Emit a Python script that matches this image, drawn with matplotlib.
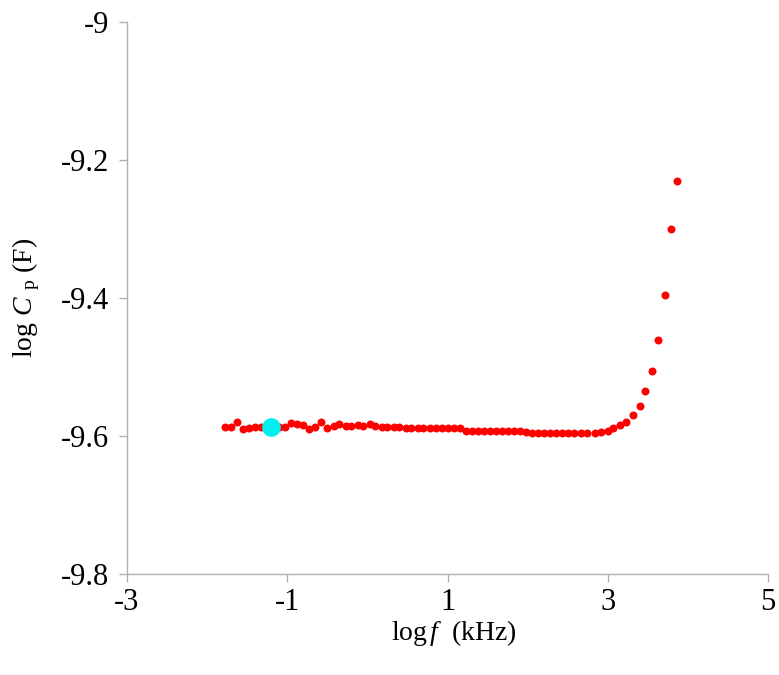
import matplotlib
matplotlib.use('Agg')
import matplotlib.pyplot as plt

plt.rcParams['font.family'] = ['Liberation Serif', 'DejaVu Serif']
plt.rcParams['mathtext.fontset'] = 'custom'
plt.rcParams['mathtext.rm'] = 'Liberation Serif'
plt.rcParams['mathtext.it'] = 'Liberation Serif:italic'
plt.rcParams['axes.unicode_minus'] = False

# log f (kHz) and log Cp (F)
log_f = [-1.78, -1.70, -1.63, -1.55, -1.48, -1.40, -1.33, -1.25, -1.18, -1.10,
         -1.03, -0.95, -0.88, -0.80, -0.73, -0.65, -0.58, -0.50, -0.42, -0.35,
         -0.27, -0.20, -0.12, -0.05, 0.03, 0.10, 0.18, 0.25, 0.33, 0.40,
         0.48, 0.55, 0.63, 0.70, 0.78, 0.85, 0.93, 1.00, 1.08, 1.15,
         1.23, 1.30, 1.38, 1.45, 1.53, 1.60, 1.68, 1.75, 1.83, 1.90,
         1.98, 2.05, 2.13, 2.20, 2.28, 2.35, 2.43, 2.50, 2.58, 2.67,
         2.74, 2.84, 2.92, 3.00, 3.07, 3.15, 3.23, 3.32, 3.40, 3.47,
         3.55, 3.62, 3.71, 3.79, 3.86]
log_cp = [-9.5865, -9.5865, -9.580, -9.590, -9.588, -9.587, -9.587, -9.587, -9.587, -9.587,
          -9.5865, -9.581, -9.583, -9.584, -9.590, -9.587, -9.580, -9.588, -9.586, -9.583,
          -9.585, -9.585, -9.584, -9.586, -9.583, -9.586, -9.587, -9.587, -9.587, -9.587,
          -9.588, -9.589, -9.589, -9.589, -9.589, -9.589, -9.589, -9.589, -9.589, -9.589,
          -9.592, -9.592, -9.592, -9.592, -9.592, -9.592, -9.592, -9.592, -9.592, -9.592,
          -9.5935, -9.595, -9.595, -9.595, -9.595, -9.595, -9.595, -9.595, -9.595, -9.595,
          -9.595, -9.595, -9.594, -9.592, -9.589, -9.584, -9.579, -9.570, -9.556, -9.535,
          -9.506, -9.460, -9.396, -9.300, -9.230]

# highlighted point
hl_f = [-1.20]
hl_cp = [-9.5865]

fig = plt.figure(figsize=(7.79, 6.75), dpi=100)
ax = fig.add_axes([0.163, 0.1496, 0.823, 0.8174])

ax.scatter(log_f, log_cp, s=33, color='#ff0000', linewidths=0, zorder=3)
ax.scatter(hl_f, hl_cp, s=180, color='#00f0f0', linewidths=0, zorder=4)

ax.set_xlim(-3, 5)
ax.set_ylim(-9.8, -9.0)
ax.set_xticks([-3, -1, 1, 3, 5])
ax.set_yticks([-9.8, -9.6, -9.4, -9.2, -9.0])
ax.set_yticklabels(['-9.8', '-9.6', '-9.4', '-9.2', '-9'])

for side in ['top', 'right']:
    ax.spines[side].set_visible(False)
for side in ['left', 'bottom']:
    ax.spines[side].set_color('#b0b0b0')
    ax.spines[side].set_linewidth(1.0)
ax.tick_params(axis='both', direction='out', length=6, width=1.0, color='#b0b0b0',
               labelsize=22)
ax.tick_params(axis='y', pad=7)
ax.tick_params(axis='x', pad=4)

ax.set_xlabel(r'log$\,\mathit{f}$  (kHz)', fontsize=20)
ax.set_ylabel(r'log $\mathit{C}$ $_{\mathrm{p}}$ (F)', fontsize=20)
ax.xaxis.set_label_coords(0.51, -0.08)
ax.yaxis.set_label_coords(-0.133, 0.5)

fig.savefig('out.png', dpi=100)
